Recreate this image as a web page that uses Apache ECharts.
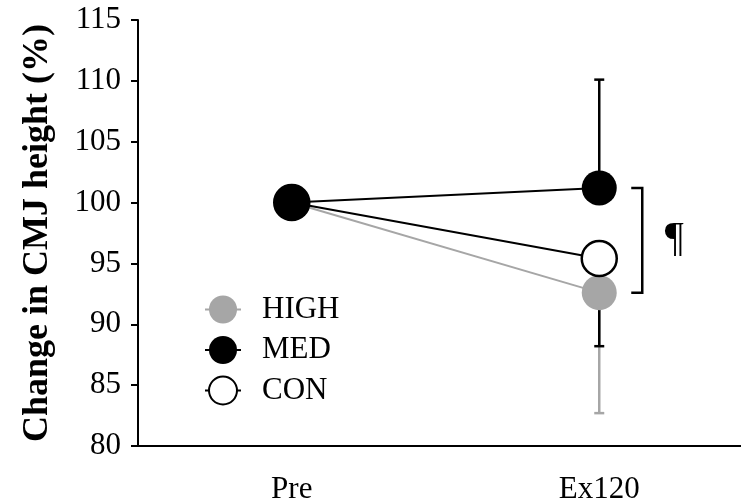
<!DOCTYPE html>
<html>
<head>
<meta charset="utf-8">
<script src="https://cdn.jsdelivr.net/npm/echarts@6/dist/echarts.min.js"></script>
<style>
  html, body { margin: 0; padding: 0; background: #fff; }
  #chart { width: 741px; height: 501px; }
</style>
</head>
<body>
<div id="chart"></div>
<script>
// data
var categories = ['Pre', 'Ex120'];
var highMean = [100, 92.6];
var medMean = [100, 101.2];
var conMean = [100, 95.4];
var highSd = [0, 9.9];
var medSd = [0, 8.9];
var conSd = [0, 7.2];
var yTicks = { min: 80, max: 115, step: 5 };

var grey = '#a6a6a6';
var font = '"Liberation Serif", "Times New Roman", serif';

// only the outward half of each bar is shown in the figure (+1 up, -1 down)
var errRows = function (means, sds, side) {
  var rows = [];
  for (var i = 0; i < means.length; i++) {
    if (sds[i] > 0) rows.push([i, means[i], means[i] + side * sds[i]]);
  }
  return rows;
};

var errSeries = function (name, means, sds, side, color, z) {
  return {
    type: 'custom',
    name: name + '-err',
    z: z,
    silent: true,
    data: errRows(means, sds, side),
    renderItem: function (params, api) {
      var m = api.coord([api.value(0), api.value(1)]);
      var e = api.coord([api.value(0), api.value(2)]);
      var hw = 5;
      var st = { stroke: color, lineWidth: 2.5 };
      return {
        type: 'group',
        children: [
          { type: 'line', shape: { x1: m[0], y1: m[1], x2: e[0], y2: e[1] }, style: st },
          { type: 'line', shape: { x1: e[0] - hw, y1: e[1], x2: e[0] + hw, y2: e[1] }, style: st }
        ]
      };
    }
  };
};

var lineSeries = function (name, means, fill, stroke, z) {
  return {
    type: 'line',
    name: name,
    z: z,
    data: means,
    symbol: 'circle',
    symbolSize: 35,
    itemStyle: { color: fill, borderColor: stroke, borderWidth: fill === '#fff' ? 2.5 : 0 },
    lineStyle: { color: stroke, width: 2 },
    emphasis: { disabled: true }
  };
};

var myChart = echarts.init(document.getElementById('chart'));

var option = {
  animation: false,
  grid: { left: 138, width: 615, top: 20, bottom: 55, outerBoundsMode: 'none' },
  legend: {
    orient: 'vertical',
    left: 199,
    top: 289,
    itemWidth: 36,
    itemHeight: 35,
    itemGap: 9.5,
    data: ['HIGH', 'MED', 'CON'],
    textStyle: { fontFamily: font, fontSize: 31, color: '#000', padding: [0, 0, 0, 16] }
  },
  xAxis: {
    type: 'category',
    data: categories,
    axisLine: { lineStyle: { color: '#000', width: 2 } },
    axisTick: { alignWithLabel: true, length: 5, lineStyle: { color: '#000', width: 2 } },
    axisLabel: { fontFamily: font, fontSize: 31, color: '#000', margin: 28 },
    splitLine: { show: false }
  },
  yAxis: {
    type: 'value',
    min: yTicks.min,
    max: yTicks.max,
    interval: yTicks.step,
    name: 'Change in CMJ height (%)',
    nameLocation: 'middle',
    nameGap: 82,
    nameTextStyle: { fontFamily: font, fontSize: 36, fontWeight: 'bold', color: '#000' },
    axisLine: { show: true, lineStyle: { color: '#000', width: 2 } },
    axisTick: { show: true, length: 7, lineStyle: { color: '#000', width: 2 } },
    axisLabel: { fontFamily: font, fontSize: 31, color: '#000', margin: 17 },
    splitLine: { show: false }
  },
  series: [
    errSeries('HIGH', highMean, highSd, -1, grey, 1),
    errSeries('CON', conMean, conSd, -1, '#000', 2),
    errSeries('MED', medMean, medSd, 1, '#000', 2),
    lineSeries('HIGH', highMean, grey, grey, 3),
    lineSeries('CON', conMean, '#fff', '#000', 4),
    lineSeries('MED', medMean, '#000', '#000', 5),
    {
      // significance bracket between MED and HIGH at Ex120
      type: 'custom',
      name: 'sig',
      z: 6,
      silent: true,
      data: [[1, medMean[1], highMean[1]]],
      renderItem: function (params, api) {
        var a = api.coord([api.value(0), api.value(1)]);
        var b = api.coord([api.value(0), api.value(2)]);
        var x0 = a[0] + 32, x1 = a[0] + 43;
        return {
          type: 'group',
          children: [
            {
              type: 'polyline',
              shape: { points: [[x0, a[1]], [x1, a[1]], [x1, b[1]], [x0, b[1]]] },
              style: { stroke: '#000', lineWidth: 2.5, fill: null }
            },
            {
              type: 'text',
              x: a[0] + 75,
              y: (a[1] + b[1]) / 2,
              style: { text: '\u00B6', fontFamily: font, fontSize: 42, fill: '#000', align: 'center', verticalAlign: 'middle' }
            }
          ]
        };
      }
    }
  ]
};

myChart.setOption(option);
</script>
</body>
</html>
